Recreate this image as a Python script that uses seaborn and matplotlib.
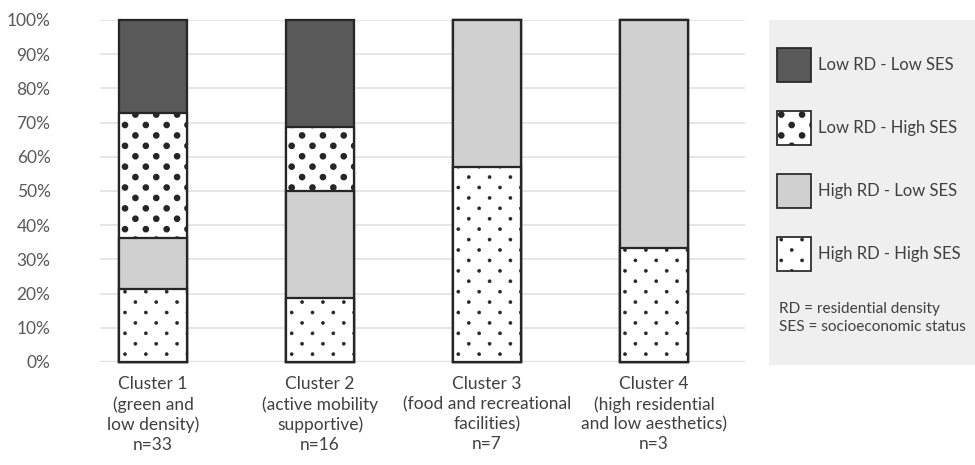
import matplotlib
matplotlib.use("Agg")
import matplotlib.pyplot as plt
import matplotlib.ticker as ticker
import matplotlib.hatch as mhatch
from matplotlib.path import Path
from matplotlib.patches import Patch
import seaborn as sns
import numpy as np
import pandas as pd

# Data (percent of members in each cluster)
clusters = [
    "Cluster 1\n(green and\nlow density)\nn=33",
    "Cluster 2\n(active mobility\nsupportive)\nn=16",
    "Cluster 3\n(food and recreational\nfacilities)\nn=7",
    "Cluster 4\n(high residential\nand low aesthetics)\nn=3",
]
high_rd_high_ses = [21.2, 18.75, 57.1, 33.3]
high_rd_low_ses = [15.2, 31.25, 42.9, 66.7]
low_rd_high_ses = [36.4, 18.75, 0.0, 0.0]
low_rd_low_ses = [27.2, 31.25, 0.0, 0.0]

series_names = ["High RD - High SES", "High RD - Low SES", "Low RD - High SES", "Low RD - Low SES"]
series_values = [high_rd_high_ses, high_rd_low_ses, low_rd_high_ses, low_rd_low_ses]

styles = {
    "High RD - High SES": dict(face="white", hatch=".", hlw=0.3),
    "High RD - Low SES": dict(face="#d0d0d0", hatch="", hlw=0.3),
    "Low RD - High SES": dict(face="white", hatch=".", hlw=2.0),
    "Low RD - Low SES": dict(face="#595959", hatch="", hlw=0.3),
}

EDGE = "#262626"
TEXT = "#404040"


class DiamondDots(mhatch.HatchPatternBase):
    """Filled dots on a diamond lattice (rows at half the in-row spacing), used for '.'"""

    def __init__(self, hatch, density):
        self.n = hatch.count('.') * density
        circle = Path.unit_circle()
        self.shape_vertices = circle.vertices
        self.shape_codes = circle.codes
        if self.n:
            self.num_shapes = (self.n + 1) ** 2 + self.n ** 2
        else:
            self.num_shapes = 0
        self.num_vertices = self.num_shapes * len(self.shape_vertices)

    def set_vertices_and_codes(self, vertices, codes):
        n = self.n
        dot = self.shape_vertices * (0.075 / n)
        vparts, cparts = [], []
        for row in range(2 * n + 1):
            if row % 2 == 0:
                cols = np.linspace(0, 1, n + 1)
            else:
                cols = np.linspace(0.5 / n, 1 - 0.5 / n, n)
            for col in cols:
                vparts.append(dot + [col, row / (2 * n)])
                cparts.append(self.shape_codes)
        vertices[:] = np.concatenate(vparts)
        codes[:] = np.concatenate(cparts)

    get_vertices_and_codes = set_vertices_and_codes


mhatch._hatch_types = [DiamondDots if t is mhatch.SmallFilledCircles else t for t in mhatch._hatch_types]

sns.set_theme(style="white")
plt.rcParams["font.family"] = ["Lato", "DejaVu Sans"]
plt.rcParams["hatch.color"] = "#111111"

fig = plt.figure(figsize=(7.8, 3.72), dpi=125)
ax = fig.add_axes([100 / 975, 1 - 362 / 465, 645 / 975, 342 / 465])

# cumulative totals, drawn from the top segment down so each bar covers the previous
df = pd.DataFrame({name: vals for name, vals in zip(series_names, series_values)}, index=clusters)
cum = df.cumsum(axis=1) / 100.0

for name in reversed(series_names):
    st = styles[name]
    plt.rcParams["hatch.linewidth"] = st["hlw"]
    n_before = len(ax.patches)
    plot_df = pd.DataFrame({"cluster": clusters, "value": cum[name].values})
    sns.barplot(data=plot_df, x="cluster", y="value", ax=ax, color=st["face"], width=0.41,
                edgecolor=EDGE, linewidth=1.3, hatch=st["hatch"], saturation=1, errorbar=None)
    for p in ax.patches[n_before:]:
        p.set_facecolor(st["face"])
        p.set_clip_on(False)
        if hasattr(p, "set_hatch_linewidth"):
            p.set_hatch_linewidth(st["hlw"])
        if p.get_height() <= 0:
            p.set_visible(False)

ax.set_xlim(-0.317, 3.545)
ax.set_ylim(0, 1)
ax.yaxis.set_major_locator(ticker.MultipleLocator(0.1))
ax.yaxis.set_major_formatter(ticker.PercentFormatter(1.0, decimals=0))
ax.grid(axis="y", color="#e3e3e3", linewidth=1.0)
ax.set_axisbelow(True)
for s in ax.spines.values():
    s.set_visible(False)
ax.axhline(0, color="#bfbfbf", linewidth=1.8, zorder=0.5)
ax.tick_params(axis="y", length=0, labelsize=10, labelcolor="#595959", pad=28.5)
ax.tick_params(axis="x", length=0, labelsize=10, labelcolor=TEXT, pad=8)
for lbl in ax.get_xticklabels():
    lbl.set_linespacing(1.3)
ax.set_xlabel("")
ax.set_ylabel("")

# legend panel
lax = fig.add_axes([769 / 975, 1 - 365 / 465, 206 / 975, 345 / 465])
lax.set_facecolor("#efefef")
lax.set_xticks([])
lax.set_yticks([])
for s in lax.spines.values():
    s.set_visible(False)

handles = []
for name in reversed(series_names):
    st = styles[name]
    handles.append(Patch(facecolor=st["face"], edgecolor=EDGE, linewidth=1.0, hatch=st["hatch"], label=name))

leg = lax.legend(handles=handles, loc="upper left", bbox_to_anchor=(-0.018, 0.953), frameon=False,
                 fontsize=9.6, handlelength=2.04, handleheight=2.76, labelspacing=1.74,
                 handletextpad=0.42, borderaxespad=0.3)
for t in leg.get_texts():
    t.set_color(TEXT)
for name, h in zip(reversed(series_names), leg.legend_handles):
    if hasattr(h, "set_hatch_linewidth"):
        h.set_hatch_linewidth(styles[name]["hlw"])

lax.text(0.048, 0.136, "RD = residential density\nSES = socioeconomic status", transform=lax.transAxes,
         fontsize=8.9, color=TEXT, va="center", ha="left", linespacing=1.38)

fig.savefig("out.png", dpi=125, facecolor="white")
